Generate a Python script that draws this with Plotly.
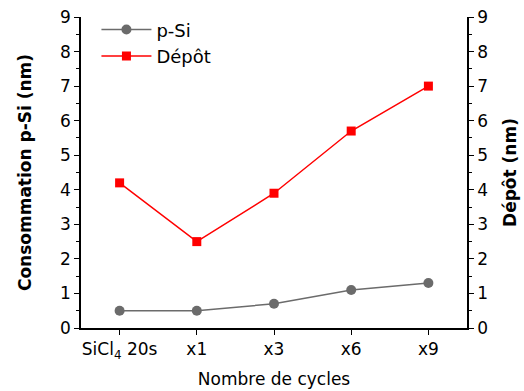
import plotly.graph_objects as go

categories = ["SiCl<sub>4</sub> 20s", "x1", "x3", "x6", "x9"]
psi_values = [0.5, 0.5, 0.7, 1.1, 1.3]
depot_values = [4.2, 2.5, 3.9, 5.7, 7.0]
y_ticks = list(range(0, 10))

xpos = list(range(len(categories)))
font_family = "DejaVu Sans, Arial, sans-serif"
FS = 17

fig = go.Figure()
fig.add_trace(go.Scatter(
    x=xpos, y=psi_values, name="p-Si", mode="lines+markers",
    line=dict(color="#6b6b6b", width=1.5),
    marker=dict(symbol="circle", size=10, color="#6b6b6b"),
))
fig.add_trace(go.Scatter(
    x=xpos, y=depot_values, name="Dépôt", mode="lines+markers",
    line=dict(color="#ff0000", width=1.5),
    marker=dict(symbol="square", size=9, color="#ff0000"),
    yaxis="y2",
))

axis_common = dict(
    range=[0, 9], tickvals=y_ticks, ticks="outside", ticklen=5, tickwidth=1.2,
    tickcolor="black", showline=True, linecolor="black", linewidth=1.5,
    showgrid=False, zeroline=False, automargin=False,
    tickfont=dict(size=FS, color="black", family=font_family),
    minor=dict(ticks="outside", ticklen=3, tickwidth=1, tickcolor="black", dtick=0.5, showgrid=False),
)

fig.update_layout(
    width=524, height=391,
    margin=dict(l=81, r=57, t=16, b=63),
    plot_bgcolor="white", paper_bgcolor="white",
    font=dict(family=font_family, color="black"),
    showlegend=True,
    legend=dict(x=0.04, y=1.015, xanchor="left", yanchor="top",
                font=dict(size=18, color="black", family=font_family),
                bgcolor="rgba(0,0,0,0)", tracegroupgap=0, itemwidth=50),
    xaxis=dict(
        range=[-0.5, 4.5], tickvals=xpos, ticktext=categories,
        ticks="outside", ticklen=5, tickwidth=1.2, tickcolor="black",
        showline=True, linecolor="black", linewidth=1.5, showgrid=False, zeroline=False,
        automargin=False,
        tickfont=dict(size=FS, color="black", family=font_family),
        title=dict(text="Nombre de cycles", font=dict(size=FS, color="black", family=font_family), standoff=12),
    ),
    yaxis=dict(
        **axis_common, side="left",
        title=dict(text="<b>Consommation p-Si (nm)</b>", font=dict(size=FS, color="black", family=font_family), standoff=24),
    ),
    yaxis2=dict(
        **axis_common, side="right", overlaying="y",
        title=dict(text="<b>Dépôt (nm)</b>", font=dict(size=FS, color="black", family=font_family), standoff=17),
    ),
)

fig.write_html("out.html", config={"displayModeBar": False},
               post_script="document.body.style.margin='0';document.body.style.padding='0';")
